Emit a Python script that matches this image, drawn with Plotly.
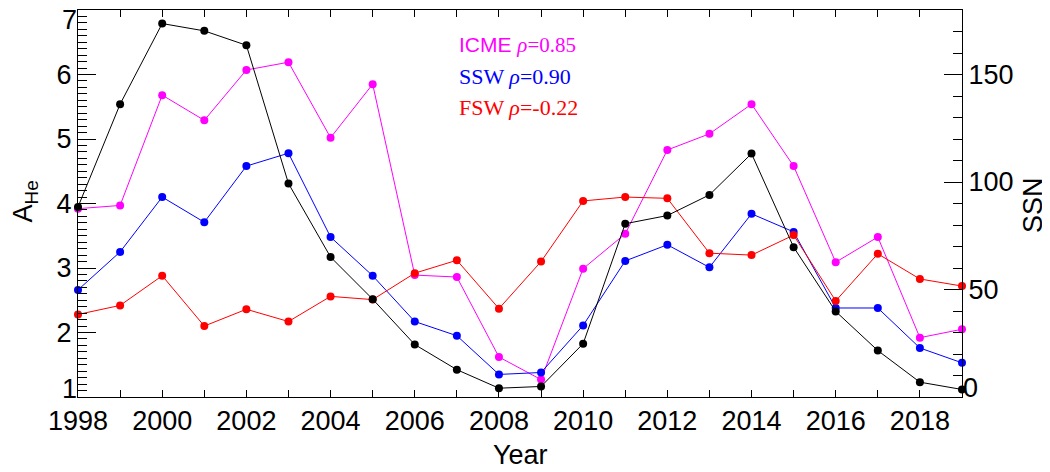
import plotly.graph_objects as go

years = list(range(1998, 2020))
icme = [3.92, 3.97, 5.68, 5.29, 6.07, 6.19, 5.02, 5.85, 2.89, 2.86, 1.62, 1.27,
        2.99, 3.53, 4.83, 5.08, 5.54, 4.58, 3.09, 3.48, 1.92, 2.05]
ssw = [2.66, 3.25, 4.10, 3.71, 4.58, 4.78, 3.48, 2.88, 2.17, 1.95, 1.35, 1.38,
       2.11, 3.11, 3.36, 3.01, 3.84, 3.56, 2.38, 2.38, 1.76, 1.53]
fsw = [2.28, 2.42, 2.88, 2.10, 2.36, 2.17, 2.56, 2.51, 2.92, 3.12, 2.37, 3.10,
       4.04, 4.10, 4.08, 3.23, 3.20, 3.51, 2.49, 3.22, 2.83, 2.72]
ssn = [88.4, 136.2, 173.7, 170.3, 163.6, 99.3, 65.1, 45.5, 24.4, 12.7, 4.1, 4.9,
       24.8, 80.6, 84.4, 94.0, 113.2, 69.7, 39.8, 21.6, 6.9, 3.5]

labels = [("ICME", "0.85", "#ff00ff", "Liberation Sans"),
          ("SSW", "0.90", "#0000ff", "Liberation Serif"),
          ("FSW", "-0.22", "#ff0000", "Liberation Serif")]

fig = go.Figure()
for vals, col in [(icme, "#ff00ff"), (ssw, "#0000ff"), (fsw, "#ff0000")]:
    fig.add_trace(go.Scatter(x=years, y=vals, mode="lines+markers",
                             line=dict(color=col, width=1),
                             marker=dict(color=col, size=8),
                             showlegend=False, cliponaxis=False))
fig.add_trace(go.Scatter(x=years, y=ssn, mode="lines+markers", yaxis="y2",
                         line=dict(color="black", width=1),
                         marker=dict(color="black", size=8),
                         showlegend=False, cliponaxis=False))
# empty traces so the end-label axes get drawn
for ax in ["y3", "y4", "y5"]:
    fig.add_trace(go.Scatter(x=[], y=[], yaxis=ax, showlegend=False, hoverinfo="skip"))

tickfont = dict(family="Liberation Sans", size=27, color="black")
common = dict(showgrid=False, zeroline=False, tickfont=tickfont, tickcolor="black",
              automargin=False)
fig.update_layout(
    width=1050, height=472,
    # page body has an 8px margin; compensate so the plot area sits at 78..962 x 10..397
    margin=dict(l=70, r=96, t=2, b=83, autoexpand=False),
    paper_bgcolor="white", plot_bgcolor="white",
    xaxis=dict(range=[1998, 2019], dtick=2, tick0=1998, ticks="inside", ticklen=7,
               showline=True, linecolor="black", linewidth=1, mirror="ticks",
               minor=dict(dtick=1, ticks="inside", ticklen=7, tickcolor="black", showgrid=False),
               **common),
    yaxis=dict(range=[1, 7], tickvals=[2, 3, 4, 5, 6],
               ticks="inside", ticklen=18, showline=True, linecolor="black", linewidth=1,
               minor=dict(dtick=0.1, ticks="inside", ticklen=9, tickcolor="black", showgrid=False),
               **common),
    yaxis3=dict(range=[1, 7], tickvals=[1], overlaying="y", side="left", anchor="x",
                ticks="inside", ticklen=18, ticklabelshift=-8, showline=False,
                ticklabeloverflow="allow", **common),
    yaxis4=dict(range=[1, 7], tickvals=[7], overlaying="y", side="left", anchor="x",
                ticks="inside", ticklen=18, ticklabelshift=10, showline=False,
                ticklabeloverflow="allow", **common),
    yaxis2=dict(range=[0, 180], tickvals=[50, 100, 150],
                overlaying="y", side="right", anchor="x", ticks="inside",
                ticklen=18, showline=True, linecolor="black", linewidth=1,
                minor=dict(dtick=10, ticks="inside", ticklen=9, tickcolor="black", showgrid=False),
                **common),
    yaxis5=dict(range=[0, 180], tickvals=[0], overlaying="y", side="right", anchor="x",
                ticks="inside", ticklen=18, ticklabelshift=-9, showline=False,
                ticklabeloverflow="allow", **common),
)

# axis titles
fig.add_annotation(xref="paper", yref="paper", x=0.5, y=-0.151, showarrow=False,
                   text="Year", font=tickfont, xanchor="center", yanchor="middle")
fig.add_annotation(xref="paper", yref="paper", x=-0.06, y=0.505, showarrow=False,
                   text="A<sub>He</sub>", font=tickfont, textangle=-90,
                   xanchor="center", yanchor="middle")
fig.add_annotation(xref="paper", yref="paper", x=1.0803, y=0.496, showarrow=False,
                   text="SSN", font=tickfont, textangle=-90,
                   xanchor="center", yanchor="middle")

ys = [0.91, 0.829, 0.749]
for (name, rho, col, fam), yy in zip(labels, ys):
    size = 21 if fam == "Liberation Sans" else 22
    txt = (f'<span style="font-family:{fam}">{name} </span>'
           f'<span style="font-family:Liberation Serif"><i>ρ</i>={rho}</span>')
    fig.add_annotation(xref="paper", yref="paper", x=0.4287, y=yy, xanchor="left",
                       yanchor="middle", showarrow=False, text=txt,
                       font=dict(color=col, size=size, family=fam))

fig.write_html("out.html")
